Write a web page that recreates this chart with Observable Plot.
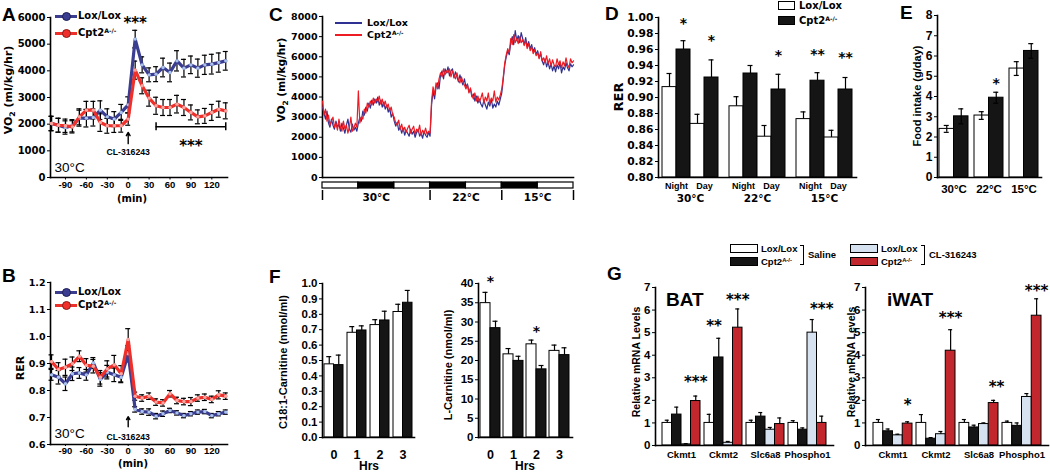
<!DOCTYPE html>
<html><head><meta charset="utf-8">
<script src="https://cdn.jsdelivr.net/npm/d3@7"></script>
<script src="https://cdn.jsdelivr.net/npm/@observablehq/plot@0.6"></script>
<style>
html,body{margin:0;padding:0;background:#fff;}
#fig{position:relative;width:1050px;height:474px;overflow:hidden;background:#fff;color:#000;}
.t{position:absolute;white-space:nowrap;line-height:1;}
.sw{position:absolute;box-sizing:border-box;}
sup{font-size:0.62em;vertical-align:0.5em;line-height:0;}
svg.ab g[aria-label="x-axis tick label"]{font-family:"Liberation Sans",Arial,sans-serif;font-size:9.5px;}
</style></head><body><div id="fig"></div>
<script>
// ================= DATA =================
// Panels A & B: time course around CL-316243 injection (min)
const tMin = [-110,-100,-90,-80,-70,-60,-50,-40,-30,-20,-10,0,10,20,30,40,50,60,70,80,90,100,110,120,130,140];
const aVO2Lox    = [2025,1960,1875,1940,2225,2225,2250,2525,2275,2190,2440,2725,5190,4225,3850,3875,4125,3940,4375,4100,4225,4100,4225,4250,4310,4375];
const aVO2LoxErr = [270,260,250,230,300,330,320,350,300,280,300,300,330,300,260,280,350,350,380,330,330,340,360,370,360,350];
const aVO2Cpt    = [2025,1960,1940,1900,2275,2525,2525,2060,1940,1940,1940,2190,4025,3440,2975,2690,2625,2625,2750,2625,2440,2275,2310,2440,2560,2500];
const aVO2CptErr = [270,260,250,230,300,330,330,330,280,250,240,230,340,300,300,320,300,300,330,300,280,260,280,300,300,300];
const aTicksX = [-90,-60,-30,0,30,60,90,120];
const aTicksY = [0,1000,2000,3000,4000,5000,6000];
const aStarsSpike = [{x:10, v:5950, s:"***"}];
const aBracket = [{x1:40, x2:140, v:1900}];
const aBracketStars = [{x:90, v:1330, s:"***"}];
const aArrow = [{x:0, v1:1270, v2:1690}];
const aDrug = [{x:0, v:930, s:"CL-316243"}];

const bRERLox    = [0.858,0.849,0.825,0.862,0.865,0.858,0.902,0.841,0.868,0.858,0.849,0.936,0.730,0.722,0.720,0.705,0.714,0.726,0.717,0.707,0.714,0.720,0.722,0.707,0.714,0.720];
const bRERLoxErr = [0.02,0.025,0.025,0.025,0.02,0.02,0.02,0.025,0.025,0.025,0.02,0.03,0.01,0.01,0.012,0.01,0.01,0.008,0.008,0.008,0.008,0.008,0.008,0.008,0.008,0.008];
const bRERCpt    = [0.907,0.878,0.886,0.899,0.927,0.893,0.890,0.849,0.880,0.895,0.862,0.989,0.779,0.772,0.779,0.757,0.754,0.788,0.763,0.759,0.759,0.772,0.775,0.767,0.784,0.779];
const bRERCptErr = [0.025,0.025,0.03,0.025,0.02,0.025,0.025,0.025,0.03,0.035,0.03,0.04,0.015,0.012,0.012,0.012,0.012,0.012,0.012,0.012,0.015,0.012,0.012,0.012,0.015,0.012];
const bTicksY = [0.6,0.7,0.8,0.9,1.0,1.1,1.2];
const bArrow = [{x:0, v1:0.666, v2:0.703}];
const bDrug = [{x:0, v:0.627, s:"CL-316243"}];

// Panel C: VO2 trace, one reading every half hour
const cStepHours = 0.5;
const cVO2Lox = [
 3500,3200,2900,3300,2700,2500,2900,2600,2400,2800,2500,2650,
 2300,2700,2450,2200,2600,2900,2400,2250,2650,2350,2500,2300,
 2700,3000,2800,3300,3100,3500,3300,3700,3450,3850,3600,3900,
 3700,4000,3600,3850,3500,3750,3400,3600,3250,3450,3000,3200,
 2800,2550,2750,2350,2500,2200,2450,2100,2350,2200,2050,2400,
 2150,2300,2000,2250,2400,2050,2200,1950,2300,2100,2000,2250,
 2050,3600,4300,3900,4500,4700,4400,5100,5300,4900,5400,5200,
 5500,5050,5300,5400,4950,5250,5000,4750,5100,4800,4600,4900,
 4500,4650,4250,4400,4000,4150,3800,4050,3700,3900,3650,3500,
 3850,3600,3400,3750,3550,3900,3450,3650,3500,3800,3600,3900,
 4200,4900,5600,6000,6300,6100,6700,7000,6600,7300,6800,7050,
 6700,7200,6900,6600,6950,6500,6750,6400,6600,6250,6450,6100,
 6300,5950,6150,5800,5600,5900,5500,5750,5400,5650,5300,5550,
 5250,5600,5400,5700,5200,5500,5350,5700,5450,5300,5650,5500,
 5600];
const cVO2Cpt = [
 3800,3100,3400,2800,3100,2600,2800,3000,2500,2700,2350,2900,
 2500,2300,2800,2400,2600,2200,2500,3000,2300,2450,2700,2500,
 4300,2700,3000,2900,3400,3200,3700,3500,3800,3600,3950,3700,
 3900,3750,4050,3650,3900,3550,3800,3500,3650,3300,3500,3100,
 3000,2700,2600,2850,2400,2650,2300,2500,2250,2450,2600,2200,
 2400,2550,2150,2400,2250,2600,2100,2350,2200,2450,2150,2300,
 2200,3800,4500,4100,4700,4400,4900,5200,5000,5400,5100,5300,
 5200,5400,5000,5300,5100,4900,5200,4850,4700,5000,4750,4600,
 4400,4600,4200,4450,4100,3900,4200,3800,4050,3750,3950,4200,
 3700,4000,3800,4200,3650,3950,3800,4300,3750,4000,3850,4100,
 4400,5000,5700,6100,6400,6200,6900,6600,7100,6700,6900,6650,
 7000,6700,6850,6550,6800,6400,6650,6300,6500,6150,6350,6050,
 6200,5900,6250,5800,5950,5700,6050,5650,5900,5550,5850,5600,
 5500,5900,5600,5800,5450,5750,5550,5950,5600,5450,5900,5700,
 5800];
const cTicksY = [0,1000,2000,3000,4000,5000,6000,7000,8000];
const cPhases = ["light","dark","light","dark","light","dark","light"];
const cPhaseHours = 12;
const cTemps = ["30°C","22°C","15°C"];
const cTempStart = [0,36,60];
const cTempEnd = [36,60,84];

// Panel D: RER
const dTemps = ["30°C","22°C","15°C"];
const dTimes = ["Night","Day"];
const dNightLox = [0.913,0.889,0.873], dNightLoxErr = [0.017,0.012,0.009];
const dNightCpt = [0.960,0.930,0.921], dNightCptErr = [0.011,0.010,0.010];
const dDayLox   = [0.867,0.851,0.850], dDayLoxErr   = [0.012,0.014,0.009];
const dDayCpt   = [0.925,0.910,0.910], dDayCptErr   = [0.022,0.019,0.015];
const dTicksY = [0.80,0.82,0.84,0.86,0.88,0.90,0.92,0.94,0.96,0.98,1.00];
const dStars = [{g:"30°C",slot:1,v:0.997,s:"*"},{g:"30°C",slot:3,v:0.976,s:"*"},{g:"22°C",slot:3,v:0.957,s:"*"},{g:"15°C",slot:1,v:0.958,s:"**"},{g:"15°C",slot:3,v:0.955,s:"**"}];

// Panel E: food intake
const eTemps = ["30°C","22°C","15°C"];
const eLox = [2.40,3.06,5.38], eLoxErr = [0.17,0.19,0.34];
const eCpt = [3.02,3.94,6.25], eCptErr = [0.37,0.27,0.36];
const eTicksY = [0,1,2,3,4,5,6,7,8];
const eStars = [{g:"22°C",slot:1,v:4.85,s:"*"}];

// Panel F: carnitines
const fHours = ["0","1","2","3"];
const fC18Lox = [0.475,0.68,0.73,0.815], fC18LoxErr = [0.05,0.04,0.035,0.05];
const fC18Cpt = [0.47,0.695,0.76,0.875],  fC18CptErr = [0.065,0.03,0.06,0.08];
const fC18Ticks = [0,0.1,0.2,0.3,0.4,0.5,0.6,0.7,0.8,0.9,1.0];
const fLcLox = [34.9,21.6,24.2,22.5], fLcLoxErr = [2.8,1.5,1.1,1.5];
const fLcCpt = [28.4,19.9,17.7,21.4], fLcCptErr = [1.8,1.2,1.0,1.9];
const fLcTicks = [0,5,10,15,20,25,30,35,40];
const fLcStars = [{g:"0",slot:0.5,v:41.5,s:"*"},{g:"2",slot:0.5,v:28.4,s:"*"}];

// Panel G: relative mRNA
const gGenes = ["Ckmt1","Ckmt2","Slc6a8","Phospho1"];
const batLoxSal = [1.0,1.0,1.0,1.0],   batLoxSalErr = [0.12,0.38,0.12,0.10];
const batCptSal = [1.37,3.9,1.28,0.70], batCptSalErr = [0.33,0.85,0.18,0.08];
const batLoxCL  = [0.05,0.12,0.70,5.0], batLoxCLErr  = [0.03,0.06,0.10,0.58];
const batCptCL  = [1.97,5.22,0.95,1.0], batCptCLErr  = [0.22,0.83,0.27,0.30];
const batStars = [{g:"Ckmt1",slot:3,v:3.0,s:"***"},{g:"Ckmt2",slot:0.5,v:5.45,s:"**"},{g:"Ckmt2",slot:3,v:6.63,s:"***"},{g:"Phospho1",slot:3,v:6.23,s:"***"}];
const iwLoxSal = [1.0,1.0,1.0,1.0],    iwLoxSalErr = [0.15,0.37,0.15,0.08];
const iwCptSal = [0.63,0.30,0.80,0.87], iwCptSalErr = [0.10,0.05,0.10,0.13];
const iwLoxCL  = [0.45,0.50,0.95,2.15], iwLoxCLErr  = [0.05,0.12,0.05,0.15];
const iwCptCL  = [0.97,4.2,1.88,5.75],  iwCptCLErr  = [0.08,0.93,0.12,0.75];
const iwStars = [{g:"Ckmt1",slot:3,v:1.95,s:"*"},{g:"Ckmt2",slot:3,v:5.82,s:"***"},{g:"Slc6a8",slot:3.3,v:2.75,s:"**"},{g:"Phospho1",slot:3,v:7.0,s:"***"}];
const gTicksY = [0,1,2,3,4,5,6,7];

// ================= HELPERS =================
const DV = '"DejaVu Sans", sans-serif';
const LS = '"Liberation Sans", Arial, sans-serif';
const BLUE = "#3b3d91", RED = "#ee2f2a";
const C_BLUE = "#2e3192", C_RED = "#ed1c24";
const LIGHT = "#d6e2f0", GRED = "#c1272d", BLK = "#151515";
const fmtInt = d3.format("d");
const fmtPlain = d => String(d);
const fig = document.getElementById("fig");

const sty = (fam, size) => `font-family:${fam};font-size:${size}px;font-weight:bold;background:transparent;overflow:visible;color:#000;`;
function mk(opts, left, top) {
  const svg = Plot.plot(opts);
  svg.style.position = "absolute"; svg.style.left = left + "px"; svg.style.top = top + "px";
  fig.appendChild(svg); return svg;
}
function txt(html, x, y, {size=10, family=DV, anchor="start", rotate=false, weight="bold"} = {}) {
  const d = document.createElement("div"); d.className = "t"; d.innerHTML = html;
  Object.assign(d.style, {fontSize: size+"px", fontFamily: family, fontWeight: weight, left: x+"px", top: y+"px"});
  const tx = anchor === "middle" ? "-50%" : anchor === "end" ? "-100%" : "0";
  d.style.transform = rotate ? "translate(-50%,-50%) rotate(-90deg)" : `translate(${tx},-50%)`;
  fig.appendChild(d); return d;
}
function box(x, y, w, h, style) {
  const d = document.createElement("div"); d.className = "sw";
  Object.assign(d.style, {left: x+"px", top: y+"px", width: w+"px", height: h+"px"}, style);
  fig.appendChild(d); return d;
}
const axL = () => Plot.frame({anchor: "left", strokeWidth: 1.6});
const axB = () => Plot.frame({anchor: "bottom", strokeWidth: 1.6});

function seriesData(t, v, e) { return t.map((x, i) => ({x, v: v[i], lo: v[i] - e[i], hi: v[i] + e[i]})); }
function errMarks(d, cap) {
  return [
    Plot.ruleX(d, {x: "x", y1: "lo", y2: "hi", stroke: "black", strokeWidth: 1.2}),
    Plot.ruleY(d, {x1: "x", x2: "x", y: "hi", insetLeft: -cap, insetRight: -cap, stroke: "black", strokeWidth: 1.2}),
    Plot.ruleY(d, {x1: "x", x2: "x", y: "lo", insetLeft: -cap, insetRight: -cap, stroke: "black", strokeWidth: 1.2})
  ];
}
function bandwidthOf(opts) {
  const p = Plot.plot({...opts, marks: [Plot.barY(opts.x.domain, {x: d => d, y1: () => opts.y.domain[0], y2: () => opts.y.domain[1]})]});
  return p.scale("x").bandwidth;
}
function barMarks(groups, vals, errs, i, n, bw, fill, {both = false, base = 0, cap = 5} = {}) {
  const w = bw / n, cx = (i + 0.5) * w, dx = cx - bw / 2;
  const d = groups.map((g, k) => ({g, v: vals[k], lo: both ? vals[k] - errs[k] : vals[k], hi: vals[k] + errs[k]}));
  const capOpt = {insetLeft: cx - cap / 2, insetRight: bw - cx - cap / 2, stroke: "black", strokeWidth: 1.2};
  return {
    bar: Plot.barY(d, {x: "g", y1: () => base, y2: "v", fill, stroke: "black", strokeWidth: 1, insetLeft: i * w, insetRight: (n - 1 - i) * w}),
    err: [
      Plot.ruleX(d, {x: "g", y1: "lo", y2: "hi", dx, stroke: "black", strokeWidth: 1.2}),
      Plot.tickY(d, {x: "g", y: "hi", ...capOpt}),
      ...(both ? [Plot.tickY(d, {x: "g", y: "lo", ...capOpt})] : [])
    ]
  };
}
function starMarks(stars, n, bw, size, family) {
  const w = bw / n;
  return stars.map(s => Plot.text([s], {x: "g", y: "v", text: "s", dx: (s.slot + 0.5) * w - bw / 2, dy: size * 0.27, fontSize: size, fontFamily: family}));
}
function legendLine(x, y, len, color, thick, marker, border) {
  box(x, y - thick / 2, len, thick, {background: color});
  if (marker) box(x + len / 2 - 4.5, y - 4.5, 9, 9, {borderRadius: "50%", background: color, border: "1.5px solid " + border});
}

// ================= PANEL A =================
{
  const L = seriesData(tMin, aVO2Lox, aVO2LoxErr), C = seriesData(tMin, aVO2Cpt, aVO2CptErr);
  mk({className: "ab", width: 235, height: 205, marginLeft: 50, marginRight: 8, marginTop: 17, marginBottom: 28, style: sty(DV, 10),
    x: {domain: [-111.5, 142.5], ticks: aTicksX, tickFormat: fmtPlain, tickSize: 2.5, tickPadding: 1, label: null},
    y: {domain: [0, 6000], ticks: aTicksY, tickFormat: fmtInt, tickSize: 3, tickPadding: 2, label: null},
    marks: [
      axL(), axB(),
      ...errMarks(L, 2.5), ...errMarks(C, 2.5),
      Plot.line(L, {x: "x", y: "v", stroke: BLUE, strokeWidth: 3.2}),
      Plot.dot(L, {x: "x", y: "v", r: 1.7, fill: "#a9c3ec"}),
      Plot.line(C, {x: "x", y: "v", stroke: RED, strokeWidth: 3.2}),
      Plot.dot(C, {x: "x", y: "v", r: 1.7, fill: "#f6a6a0"}),
      Plot.text(aStarsSpike, {x: "x", y: "v", text: "s", fontSize: 15, dy: 4}),
      Plot.ruleY(aBracket, {x1: "x1", x2: "x2", y: "v", strokeWidth: 1.5}),
      Plot.ruleX(aBracket.flatMap(b => [{x: b.x1, v: b.v}, {x: b.x2, v: b.v}]), {x: "x", y1: d => d.v - 150, y2: d => d.v + 150, strokeWidth: 1.5}),
      Plot.text(aBracketStars, {x: "x", y: "v", text: "s", fontSize: 15, dy: 4}),
      Plot.arrow(aArrow, {x1: "x", x2: "x", y1: "v1", y2: "v2", stroke: "black", strokeWidth: 1.4, headLength: 6}),
      Plot.text(aDrug, {x: "x", y: "v", text: "s", fontSize: 8.7, fontFamily: LS}),
      Plot.text(["30°C"], {text: d => d, frameAnchor: "bottom-left", textAnchor: "start", lineAnchor: "middle", dx: 4, dy: -10, fontSize: 13.5, fontWeight: "normal", fontFamily: LS})
    ]}, 0, 0);
  txt("VO<sub style='font-size:0.7em'>2</sub> (ml/kg/hr)", 10, 90, {size: 11, rotate: true});
  txt("(min)", 132, 199, {size: 10, anchor: "middle"});
  legendLine(55, 16, 22, BLUE, 3, true, "#1c1d55");
  txt("Lox/Lox", 78, 16, {size: 10});
  legendLine(55, 33, 22, RED, 3, true, "#8a1a16");
  txt("Cpt2<sup>A-/-</sup>", 78, 33, {size: 10});
  txt("A", 2, 14, {size: 19, family: LS});
}

// ================= PANEL B =================
{
  const L = seriesData(tMin, bRERLox, bRERLoxErr), C = seriesData(tMin, bRERCpt, bRERCptErr);
  mk({className: "ab", width: 235, height: 212, marginLeft: 50, marginRight: 8, marginTop: 20, marginBottom: 30, style: sty(DV, 9.5),
    x: {domain: [-111.5, 142.5], ticks: aTicksX, tickFormat: fmtPlain, tickSize: 2, tickPadding: 1, label: null},
    y: {domain: [0.6, 1.2], ticks: bTicksY, tickFormat: d3.format(".1f"), tickSize: 3, tickPadding: 2, label: null},
    marks: [
      axL(), axB(),
      ...errMarks(L, 2.5), ...errMarks(C, 2.5),
      Plot.line(L, {x: "x", y: "v", stroke: BLUE, strokeWidth: 3.2}),
      Plot.dot(L, {x: "x", y: "v", r: 1.7, fill: "#a9c3ec"}),
      Plot.line(C, {x: "x", y: "v", stroke: RED, strokeWidth: 3.2}),
      Plot.dot(C, {x: "x", y: "v", r: 1.7, fill: "#f6a6a0"}),
      Plot.arrow(bArrow, {x1: "x", x2: "x", y1: "v1", y2: "v2", stroke: "black", strokeWidth: 1.4, headLength: 6}),
      Plot.text(bDrug, {x: "x", y: "v", text: "s", fontSize: 8.7, fontFamily: LS}),
      Plot.text(["30°C"], {text: d => d, frameAnchor: "bottom-left", textAnchor: "start", lineAnchor: "middle", dx: 4, dy: -11, fontSize: 13.5, fontWeight: "normal", fontFamily: LS})
    ]}, 0, 262);
  txt("RER", 20, 368, {size: 11, rotate: true});
  txt("(min)", 133, 464, {size: 10, anchor: "middle"});
  legendLine(55, 292, 22, BLUE, 3, true, "#1c1d55");
  txt("Lox/Lox", 78, 292, {size: 10});
  legendLine(55, 305, 22, RED, 3, true, "#8a1a16");
  txt("Cpt2<sup>A-/-</sup>", 78, 305, {size: 10});
  txt("B", 2, 275, {size: 19, family: LS});
}

// ================= PANEL C =================
{
  const mkC = vals => vals.map((v, i) => ({h: i * cStepHours, v}));
  mk({width: 313, height: 182, marginLeft: 57, marginRight: 5, marginTop: 16, marginBottom: 5, style: sty(DV, 9.5),
    x: {domain: [0, 84], axis: null},
    y: {domain: [0, 8000], ticks: cTicksY, tickFormat: fmtInt, tickSize: 3, tickPadding: 2, label: null},
    marks: [
      axL(), axB(),
      Plot.line(mkC(cVO2Lox), {x: "h", y: "v", stroke: C_BLUE, strokeWidth: 1.2}),
      Plot.line(mkC(cVO2Cpt), {x: "h", y: "v", stroke: C_RED, strokeWidth: 1.2})
    ]}, 265, 0);
  const phases = cPhases.map((p, i) => ({p, x1: i * cPhaseHours, x2: (i + 1) * cPhaseHours}));
  const temps = cTemps.map((t, i) => ({t, a: cTempStart[i], b: cTempEnd[i]}));
  const bounds = [...cTempStart, cTempEnd[cTempEnd.length - 1]];
  mk({width: 313, height: 30, marginLeft: 57, marginRight: 5, marginTop: 4, marginBottom: 4, style: sty(DV, 10.5),
    x: {domain: [0, 84], axis: null}, y: {domain: [0, 22], axis: null},
    marks: [
      Plot.rect(phases, {filter: d => d.p === "light", x1: "x1", x2: "x2", y1: 16, y2: 22, fill: "white", stroke: "black", strokeWidth: 1.2}),
      Plot.rect(phases, {filter: d => d.p === "dark", x1: "x1", x2: "x2", y1: 16, y2: 22, fill: "black", stroke: "black", strokeWidth: 1.2}),
      Plot.ruleX(bounds, {x: d => d, y1: 4, y2: 14, strokeWidth: 1.5}),
      Plot.text(temps, {x: d => (d.a + d.b) / 2, y: 7, text: "t"})
    ]}, 265, 178);
  txt("VO<sub style='font-size:0.7em'>2</sub> (ml/kg/hr)", 283, 80, {size: 10.5, rotate: true});
  legendLine(335, 23, 27, C_BLUE, 2.5, false);
  txt("Lox/Lox", 367, 23, {size: 9.5});
  legendLine(335, 35, 27, C_RED, 2.5, false);
  txt("Cpt2<sup>A-/-</sup>", 367, 35, {size: 9.5});
  txt("C", 269, 14, {size: 19, family: LS});
}

// ================= PANEL D =================
{
  const opts = {width: 260, height: 210, marginLeft: 58, marginRight: 4, marginTop: 17, marginBottom: 33, style: sty(DV, 10.7),
    x: {domain: dTemps, axis: null, paddingInner: 0.16, paddingOuter: 0.045},
    y: {domain: [0.8, 1.0], ticks: dTicksY, tickFormat: d3.format(".2f"), tickSize: 3, tickPadding: 2, label: null}};
  const bw = bandwidthOf(opts), n = 4, w = bw / n, base = 0.8;
  const S = [
    barMarks(dTemps, dNightLox, dNightLoxErr, 0, n, bw, "white", {base}),
    barMarks(dTemps, dNightCpt, dNightCptErr, 1, n, bw, BLK, {base}),
    barMarks(dTemps, dDayLox, dDayLoxErr, 2, n, bw, "white", {base}),
    barMarks(dTemps, dDayCpt, dDayCptErr, 3, n, bw, BLK, {base})
  ];
  mk({...opts, marks: [
    ...S.map(s => s.bar), ...S.flatMap(s => s.err), axL(), axB(),
    ...dTimes.map((tm, j) => Plot.text(dTemps, {x: d => d, text: () => tm, frameAnchor: "bottom", lineAnchor: "middle", dy: 9, dx: (2 * j + 1) * w - bw / 2, fontSize: 9, fontFamily: LS})),
    Plot.text(dTemps, {x: d => d, text: d => d, frameAnchor: "bottom", lineAnchor: "middle", dy: 21, fontSize: 10.5}),
    ...starMarks(dStars, n, bw, 14, DV)
  ]}, 600, 0);
  txt("RER", 618, 97, {size: 13, rotate: true});
  box(778, 1, 17, 9, {background: "white", border: "1px solid black"});
  txt("Lox/Lox", 799, 6, {size: 10});
  box(778, 16, 17, 9, {background: BLK, border: "1px solid black"});
  txt("Cpt2<sup>A-/-</sup>", 799, 21, {size: 10});
  txt("D", 605, 13, {size: 19, family: LS});
}

// ================= PANEL E =================
{
  const opts = {width: 167, height: 205, marginLeft: 57, marginRight: 6, marginTop: 15, marginBottom: 28, style: sty(LS, 12),
    x: {domain: eTemps, axis: null, paddingInner: 0.17, paddingOuter: 0.07},
    y: {domain: [0, 8], ticks: eTicksY, tickFormat: fmtInt, tickSize: 3, tickPadding: 2, label: null}};
  const bw = bandwidthOf(opts), n = 2;
  const S = [
    barMarks(eTemps, eLox, eLoxErr, 0, n, bw, "white", {both: true}),
    barMarks(eTemps, eCpt, eCptErr, 1, n, bw, BLK, {both: true})
  ];
  mk({...opts, marks: [
    ...S.map(s => s.bar), ...S.flatMap(s => s.err), axL(), axB(),
    Plot.text(eTemps, {x: d => d, text: d => d, frameAnchor: "bottom", lineAnchor: "middle", dy: 12, fontSize: 11.5}),
    ...starMarks(eStars, n, bw, 14, DV)
  ]}, 880, 0);
  txt("Food intake (g/day)", 917, 96, {size: 11, family: LS, rotate: true});
  txt("E", 900, 12, {size: 19, family: LS});
}

// ================= PANEL F =================
{
  const optsL = {width: 128, height: 204, marginLeft: 32, marginRight: 4, marginTop: 13, marginBottom: 37, style: sty(LS, 11.5),
    x: {domain: fHours, axis: null, paddingInner: 0.17, paddingOuter: 0.03},
    y: {domain: [0, 1], ticks: fC18Ticks, tickFormat: d3.format(".1f"), tickSize: 3, tickPadding: 2, label: null}};
  const bwL = bandwidthOf(optsL);
  const SL = [barMarks(fHours, fC18Lox, fC18LoxErr, 0, 2, bwL, "white"), barMarks(fHours, fC18Cpt, fC18CptErr, 1, 2, bwL, BLK)];
  mk({...optsL, marks: [
    ...SL.map(s => s.bar), ...SL.flatMap(s => s.err), axL(), axB(),
    Plot.text(fHours, {x: d => d, text: d => d, frameAnchor: "bottom", lineAnchor: "middle", dy: 17, fontSize: 12.5})
  ]}, 290, 270);
  const optsR = {width: 121, height: 204, marginLeft: 23, marginRight: 4, marginTop: 13, marginBottom: 37, style: sty(LS, 11.5),
    x: {domain: fHours, axis: null, paddingInner: 0.12, paddingOuter: 0.03},
    y: {domain: [0, 40], ticks: fLcTicks, tickFormat: fmtInt, tickSize: 3, tickPadding: 2, label: null}};
  const bwR = bandwidthOf(optsR);
  const SR = [barMarks(fHours, fLcLox, fLcLoxErr, 0, 2, bwR, "white"), barMarks(fHours, fLcCpt, fLcCptErr, 1, 2, bwR, BLK)];
  mk({...optsR, marks: [
    ...SR.map(s => s.bar), ...SR.flatMap(s => s.err), axL(), axB(),
    Plot.text(fHours, {x: d => d, text: d => d, frameAnchor: "bottom", lineAnchor: "middle", dy: 17, fontSize: 12.5}),
    ...starMarks(fLcStars, 2, bwR, 14, DV)
  ]}, 455, 270);
  txt("C18:1-Carnitine (nmol/ml)", 283, 362, {size: 11, family: LS, rotate: true});
  txt("L-Carnitine (nmol/ml)", 448, 365, {size: 11, family: LS, rotate: true});
  txt("Hrs", 369, 466, {size: 12, family: LS, anchor: "middle"});
  txt("Hrs", 525, 466, {size: 12, family: LS, anchor: "middle"});
  txt("F", 269, 276, {size: 19, family: LS});
}

// ================= PANEL G =================
function gPanel(left, width, s1, e1, s2, e2, s3, e3, s4, e4, stars, title, titleX) {
  const opts = {width, height: 202, marginLeft: 25, marginRight: 2, marginTop: 15, marginBottom: 29, style: sty(LS, 11.5),
    x: {domain: gGenes, axis: null, paddingInner: 0.1, paddingOuter: 0.15},
    y: {domain: [0, 7], ticks: gTicksY, tickFormat: fmtInt, tickSize: 3, tickPadding: 2, label: null}};
  const bw = bandwidthOf(opts), n = 4;
  const S = [
    barMarks(gGenes, s1, e1, 0, n, bw, "white", {cap: 4}),
    barMarks(gGenes, s2, e2, 1, n, bw, BLK, {cap: 4}),
    barMarks(gGenes, s3, e3, 2, n, bw, LIGHT, {cap: 4}),
    barMarks(gGenes, s4, e4, 3, n, bw, GRED, {cap: 4})
  ];
  mk({...opts, marks: [
    ...S.map(s => s.bar), ...S.flatMap(s => s.err), axL(), axB(),
    Plot.text(gGenes, {x: d => d, text: d => d, frameAnchor: "bottom", lineAnchor: "middle", dy: 9, fontSize: 9.5}),
    ...starMarks(stars, n, bw, 15, DV)
  ]}, left, 272);
  txt(title, titleX, 299, {size: 19, family: LS});
}
gPanel(630, 205, batLoxSal, batLoxSalErr, batCptSal, batCptSalErr, batLoxCL, batLoxCLErr, batCptCL, batCptCLErr, batStars, "BAT", 666);
gPanel(840, 210, iwLoxSal, iwLoxSalErr, iwCptSal, iwCptSalErr, iwLoxCL, iwLoxCLErr, iwCptCL, iwCptCLErr, iwStars, "iWAT", 887);
txt("Relative mRNA Levels", 636, 362, {size: 10.5, family: LS, rotate: true});
txt("Relative mRNA Levels", 851, 362, {size: 10.5, family: LS, rotate: true});
// G legend
box(730, 244, 28, 9, {background: "white", border: "1px solid black"});
txt("Lox/Lox", 761, 248.5, {size: 9.5, family: LS});
box(730, 257, 28, 9, {background: BLK, border: "1px solid black"});
txt("Cpt2<sup>A-/-</sup>", 761, 261.5, {size: 9.5, family: LS});
box(800, 245, 4, 20, {borderTop: "1.3px solid black", borderRight: "1.3px solid black", borderBottom: "1.3px solid black"});
txt("Saline", 808, 255, {size: 9.5, family: LS});
box(850, 244, 28, 9, {background: LIGHT, border: "1px solid black"});
txt("Lox/Lox", 881, 248.5, {size: 9.5, family: LS});
box(850, 257, 28, 9, {background: GRED, border: "1px solid black"});
txt("Cpt2<sup>A-/-</sup>", 881, 261.5, {size: 9.5, family: LS});
box(921, 245, 4, 20, {borderTop: "1.3px solid black", borderRight: "1.3px solid black", borderBottom: "1.3px solid black"});
txt("CL-316243", 929, 255, {size: 9.5, family: LS});
txt("G", 607, 273, {size: 19, family: LS});
</script></body></html>
